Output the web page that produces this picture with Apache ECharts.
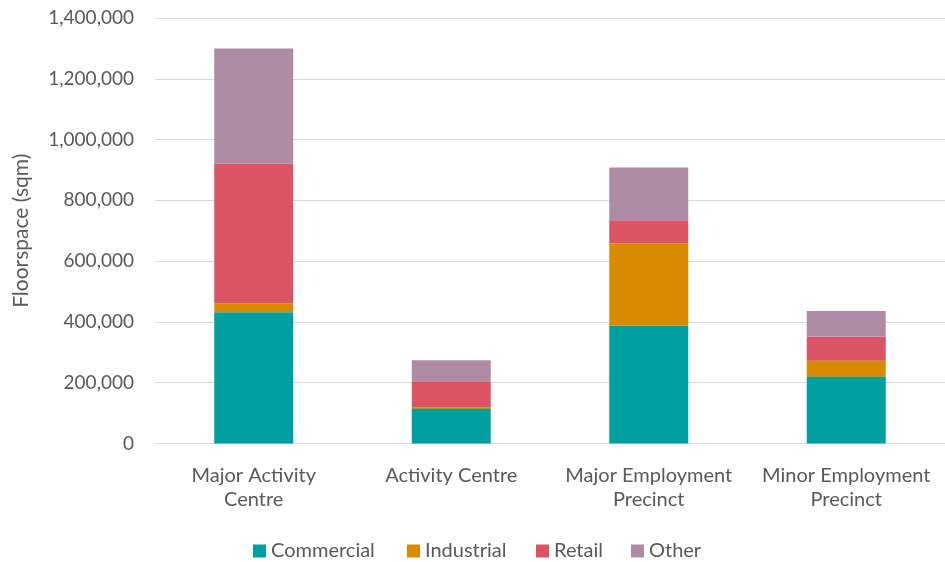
<!DOCTYPE html>
<html><head><meta charset="utf-8">
<script src="https://cdn.jsdelivr.net/npm/echarts@6/dist/echarts.min.js"></script>
<style>html,body{margin:0;padding:0;background:#fff}#c{width:945px;height:562px}</style>
</head><body><div id="c"></div>
<script>
const categories = ['Major Activity\nCentre', 'Activity Centre', 'Major Employment\nPrecinct', 'Minor Employment\nPrecinct'];
const commercial = [432000, 113500, 388000, 218500];
const industrial = [29500, 5500, 270500, 54000];
const retail = [460000, 86000, 76000, 78500];
const other = [378000, 69000, 174000, 85000];
const yTicks = [0, 200000, 400000, 600000, 800000, 1000000, 1200000, 1400000];
const seriesNames = ['Commercial', 'Industrial', 'Retail', 'Other'];
const colors = ['#009FA0', '#D98B00', '#DA5466', '#AE8BA4'];

const font = 'Lato, "Open Sans", sans-serif';
const txt = '#595959';
const data = [commercial, industrial, retail, other];
const legendLefts = [253, 407, 536, 631];
const chart = echarts.init(document.getElementById('c'), null, {renderer: 'canvas'});
chart.setOption({
  animation: false,
  color: colors,
  grid: {left: 155, right: 0, top: 18, bottom: 118.5},
  legend: seriesNames.map((n, i) => ({
    top: 541, left: legendLefts[i], itemWidth: 13, itemHeight: 13, itemGap: 0,
    icon: 'rect', padding: 0,
    textStyle: {color: txt, fontFamily: font, fontSize: 20},
    data: [n]
  })),
  xAxis: {
    type: 'category', data: categories,
    axisLine: {lineStyle: {color: '#D9D9D9'}},
    axisTick: {show: false},
    axisLabel: {color: txt, fontFamily: font, fontSize: 20, lineHeight: 24, margin: 20, interval: 0}
  },
  yAxis: {
    type: 'value', min: yTicks[0], max: yTicks[yTicks.length - 1], interval: 200000,
    name: 'Floorspace (sqm)', nameLocation: 'middle', nameGap: 123,
    nameTextStyle: {color: txt, fontFamily: font, fontSize: 21},
    axisLine: {show: false}, axisTick: {show: false},
    splitLine: {lineStyle: {color: '#D9D9D9', width: 1}},
    axisLabel: {color: txt, fontFamily: font, fontSize: 19, margin: 21,
      formatter: v => v.toLocaleString('en-US')}
  },
  series: seriesNames.map((n, i) => ({
    name: n, type: 'bar', stack: 'total', data: data[i], barWidth: '40%'
  }))
});
</script></body></html>
